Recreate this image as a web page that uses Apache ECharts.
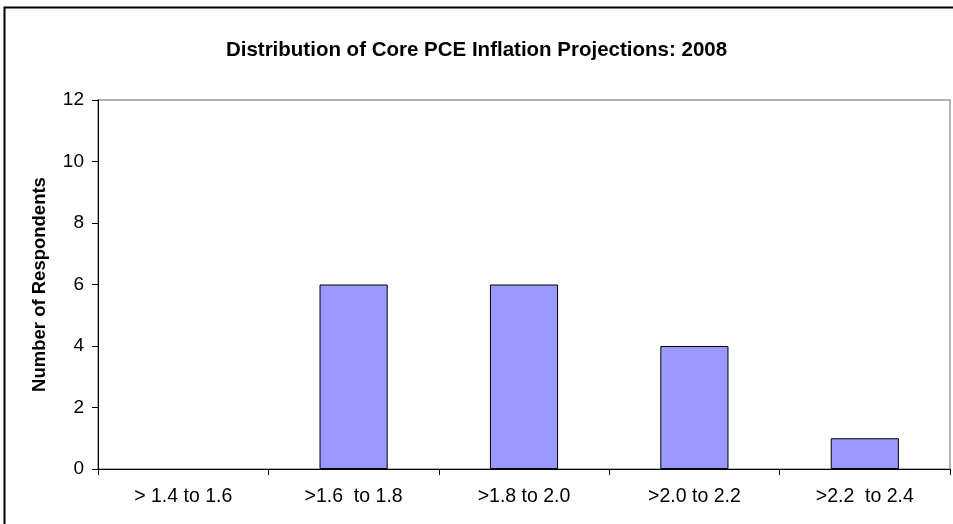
<!DOCTYPE html>
<html><head><meta charset="utf-8">
<script src="https://cdn.jsdelivr.net/npm/echarts@6/dist/echarts.min.js"></script>
<style>html,body{margin:0;padding:0;background:#fff}#c{width:953px;height:524px}</style>
</head><body><div id="c"></div>
<script>
const categories = ['> 1.4 to 1.6', '>1.6  to 1.8', '>1.8 to 2.0', '>2.0 to 2.2', '>2.2  to 2.4'];
const respondents = [0, 6, 6, 4, 1];
const chart = echarts.init(document.getElementById('c'));
chart.setOption({
  animation: false,
  backgroundColor: '#fff',
  title: {
    text: 'Distribution of Core PCE Inflation Projections: 2008',
    left: 'center', top: 35,
    textStyle: { fontFamily: 'Liberation Sans, Arial', fontWeight: 'bold', fontSize: 20.5, color: '#000' }
  },
  graphic: [{
    type: 'polyline', silent: true,
    shape: { points: [[4.5, 530], [4.5, 7.5], [960, 7.5]] },
    style: { stroke: '#000', lineWidth: 2, fill: null }
  }],
  grid: { left: 98, right: 3, top: 100, bottom: 55, show: true, borderColor: '#999', borderWidth: 1.5, backgroundColor: 'transparent' },
  xAxis: {
    type: 'category', data: categories,
    axisLine: { lineStyle: { color: '#000', width: 1 } },
    axisTick: { show: true, length: 6, lineStyle: { color: '#000' } },
    axisLabel: { color: '#000', fontFamily: 'Liberation Sans, Arial', fontSize: 19.5, margin: 18 }
  },
  yAxis: {
    type: 'value', min: 0, max: 12, interval: 2,
    name: 'Number of Respondents', nameLocation: 'middle', nameGap: 49, nameRotate: 90,
    nameTextStyle: { fontFamily: 'Liberation Sans, Arial', fontWeight: 'bold', fontSize: 18.5, color: '#000' },
    axisLine: { show: true, lineStyle: { color: '#000', width: 1 } },
    axisTick: { show: true, length: 6, lineStyle: { color: '#000' } },
    splitLine: { show: false },
    axisLabel: { color: '#000', fontFamily: 'Liberation Sans, Arial', fontSize: 19, margin: 14 }
  },
  series: [{
    type: 'bar', barWidth: '40%',
    data: respondents.map(v => ({ value: v, itemStyle: { borderWidth: v === 0 ? 0 : 1 } })),
    itemStyle: { color: '#9999FF', borderColor: '#000', borderWidth: 1 }
  }]
});
</script></body></html>
